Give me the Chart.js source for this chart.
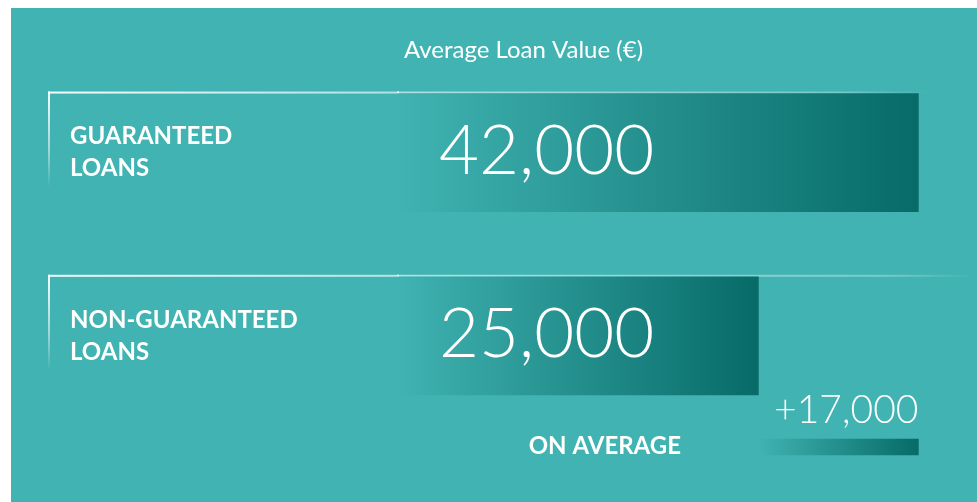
<!DOCTYPE html>
<html>
<head>
<meta charset="utf-8">
<script src="https://cdn.jsdelivr.net/npm/chart.js@4/dist/chart.umd.min.js"></script>
<style>
  html, body { margin: 0; padding: 0; background: #ffffff; }
  #wrap { position: absolute; left: 0; top: 0; width: 977px; height: 502px; }
</style>
</head>
<body>
<div id="wrap"><canvas id="myChart"></canvas></div>
<script>
// data
const categories = [['GUARANTEED', 'LOANS'], ['NON-GUARANTEED', 'LOANS']];
const loanValues = [42000, 25000];
const gapValue = 17000;
const gapLabel = 'ON AVERAGE';
const chartTitle = 'Average Loan Value (€)';

// layout (rows on a linear y scale, x scale offset so bars look like the original)
const rowPos = [0, 1, 1.607];
const xMin = -13400, xMax = 48230;
const bgColor = '#40b3b2';
const darkColor = '#076b68';
const fontFamily = 'Lato, "Open Sans", sans-serif';

function fmt(v) {
    return v.toLocaleString('en-US');
}

function barGradient(context) {
    let chart = context.chart;
    let x = chart.scales.x;
    if (!chart.chartArea || !x) return darkColor;
    let start, end;
    if (context.datasetIndex === 0) {
        start = x.getPixelForValue(xMin);
        end = x.getPixelForValue(context.raw.x);
    } else {
        start = x.getPixelForValue(context.raw.x[0]);
        end = x.getPixelForValue(context.raw.x[1]);
    }
    let g = chart.ctx.createLinearGradient(start, 0, end, 0);
    g.addColorStop(0, bgColor);
    g.addColorStop(1, darkColor);
    return g;
}

const decorations = {
    id: 'decorations',
    beforeDraw(chart) {
        let c = chart.ctx;
        c.save();
        c.fillStyle = bgColor;
        c.fillRect(11, 8, chart.width - 11, chart.height - 8);
        c.restore();
    },
    beforeDatasetsDraw(chart) {
        let c = chart.ctx;
        let bars = chart.getDatasetMeta(0).data;
        let lineEnds = [930, 977];
        c.save();
        bars.forEach(function (bar, i) {
            let top = bar.y - bar.height / 2 - 1;
            // top rule
            let hg = c.createLinearGradient(48, 0, lineEnds[i], 0);
            hg.addColorStop(0, 'rgba(255,255,255,0.95)');
            hg.addColorStop(0.4, 'rgba(255,255,255,0.6)');
            hg.addColorStop(0.9, 'rgba(255,255,255,0.3)');
            hg.addColorStop(1, 'rgba(255,255,255,0)');
            c.fillStyle = hg;
            c.fillRect(48, top - 1, lineEnds[i] - 48, 2);
            // vertical rules
            let vg = c.createLinearGradient(0, top, 0, top + 95);
            vg.addColorStop(0, 'rgba(255,255,255,0.95)');
            vg.addColorStop(0.6, 'rgba(255,255,255,0.5)');
            vg.addColorStop(1, 'rgba(255,255,255,0)');
            c.fillStyle = vg;
            c.fillRect(48, top - 1, 2, 95);
            c.fillRect(chart.chartArea.left, top - 1, 2, 95);
        });
        c.restore();
    },
    afterDatasetsDraw(chart) {
        let c = chart.ctx;
        let bars = chart.getDatasetMeta(0).data;
        c.save();
        c.fillStyle = '#ffffff';
        c.textBaseline = 'alphabetic';
        c.font = '300 69px ' + fontFamily;
        c.textAlign = 'left';
        bars.forEach(function (bar, i) {
            c.fillText(fmt(loanValues[i]), chart.chartArea.left + 42, bar.y + 21);
        });
        let gap = chart.getDatasetMeta(1).data[0];
        c.font = '300 39px ' + fontFamily;
        c.textAlign = 'right';
        c.fillText('+' + fmt(gapValue), gap.x, gap.y - 24);
        c.font = 'bold 24px ' + fontFamily;
        c.fillText(gapLabel, 681, gap.y + 7);
        c.restore();
    }
};

let ctx = document.getElementById('myChart').getContext('2d');
let myChart = new Chart(ctx, {
    type: 'bar',
    data: {
        datasets: [{
            data: loanValues.map(function (v, i) { return { x: v, y: rowPos[i] }; }),
            base: xMin,
            barThickness: 118,
            grouped: false,
            backgroundColor: barGradient,
            borderWidth: 0
        }, {
            data: [{ x: [loanValues[1], loanValues[1] + gapValue], y: rowPos[2] }],
            barThickness: 16,
            grouped: false,
            backgroundColor: barGradient,
            borderWidth: 0
        }]
    },
    options: {
        indexAxis: 'y',
        responsive: true,
        maintainAspectRatio: false,
        animation: false,
        layout: { padding: { left: 70, top: 8, right: 0, bottom: 0 } },
        plugins: {
            legend: { display: false },
            tooltip: { enabled: false },
            title: {
                display: true,
                text: chartTitle,
                color: '#ffffff',
                font: { family: fontFamily, size: 24, weight: '400' },
                padding: { top: 28, bottom: 15 }
            }
        },
        scales: {
            x: { type: 'linear', display: false, min: xMin, max: xMax },
            y: {
                type: 'linear',
                reverse: true,
                offset: false,
                min: -0.397,
                max: 1.907,
                grid: { display: false, offset: false },
                border: { display: false },
                afterBuildTicks: function (scale) {
                    scale.ticks = [{ value: 0 }, { value: 1 }];
                },
                afterFit: function (scale) {
                    scale.width = 327;
                    scale.paddingTop = 0;
                    scale.paddingBottom = 0;
                },
                ticks: {
                    crossAlign: 'far',
                    padding: 0,
                    color: '#ffffff',
                    font: { family: fontFamily, size: 24, weight: 'bold', lineHeight: 1.333 },
                    callback: function (value) { return categories[value]; }
                }
            }
        }
    },
    plugins: [decorations]
});
</script>
</body>
</html>
